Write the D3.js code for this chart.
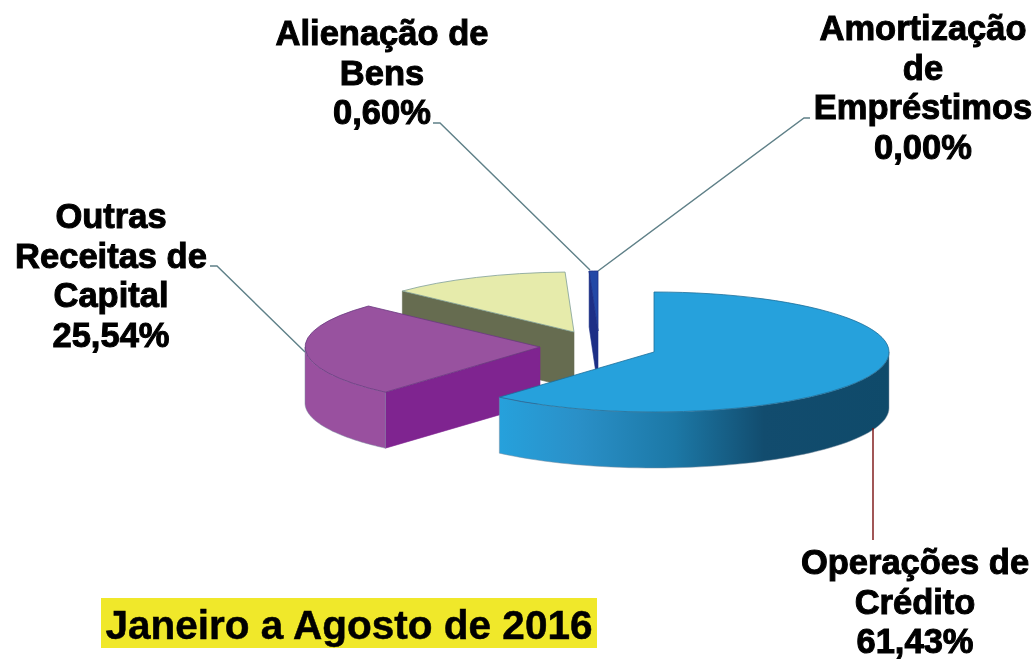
<!DOCTYPE html>
<html><head><meta charset="utf-8">
<script src="https://cdn.jsdelivr.net/npm/d3@7"></script>
<style>html,body{margin:0;padding:0;background:#fff}svg{display:block;filter:blur(.45px)}</style>
</head><body><div id="c"></div>
<script>
const categories = ["Operações de Crédito","Outras Receitas de Capital","Outras","Alienação de Bens","Amortização de Empréstimos"];
const values = [61.43,25.54,12.43,0.60,0.00];
const topColors = ["#26a1dc","#98529f","#e6ebab","#2348a6",null];
const outerColors = ["url(#gBlue)","#99509f","#e6ebab","#1c3a96",null];
const cutColors = ["#1c78a6","#7f2490","#666c50","#1d2f86",null];
const edgeColors = ["#1c6f9a","#6a3a80","#7f9e97","#1d2f86",null];
const labelLines = [
  ["Operações de","Crédito","61,43%"],
  ["Outras","Receitas de","Capital","25,54%"],
  null,
  ["Alienação de","Bens","0,60%"],
  ["Amortização","de","Empréstimos","0,00%"]
];
const title = "Janeiro a Agosto de 2016";

const W=1036,H=659,RX=235,RY=60,DEPTH=56;
const apexes=[[654,352],[540,347],[574,332],[598,331],[598,331]];
const labelPos=[[915,574],[111,228],null,[382,45],[923,40]];
const leaders=[
  [[873,428],[873,540]],
  [[210,266],[217,266],[305,352]],
  null,
  [[433,123],[440,123],[590,270]],
  [[810,118],[804,118],[598,271]]
];
const leaderColors=["#7a0f0f","#5f8088",null,"#5f8088","#5f8088"];

const svg=d3.select("#c").append("svg").attr("width",W).attr("height",H).attr("viewBox",[0,0,W,H]);
const defs=svg.append("defs");
const g=defs.append("linearGradient").attr("id","gBlue").attr("gradientUnits","userSpaceOnUse")
  .attr("x1",499).attr("x2",889).attr("y1",0).attr("y2",0);
[[0,"#26a1dc"],[0.2,"#2a90c8"],[0.45,"#1c78a6"],[0.68,"#124c6e"],[1,"#0f4a6a"]]
  .forEach(([o,c])=>g.append("stop").attr("offset",o).attr("stop-color",c));

const pie=d3.pie().value(d=>d).sort(null).startAngle(0).endAngle(2*Math.PI);
const arcs=pie(values);
const arc=d3.arc().innerRadius(0).outerRadius(1);
const px=(i,a)=>apexes[i][0]+RX*Math.sin(a);
const py=(i,a)=>apexes[i][1]-RY*Math.cos(a);
const area=d3.area().x(d=>d.x).y0(d=>d.y).y1(d=>d.y+DEPTH);

// back to front
const order=[3,2,1,0];
const chart=svg.append("g");
order.forEach(i=>{
  const s=arcs[i];
  const [ax,ay]=apexes[i];
  const g0=chart.append("g");
  // straight cut face that turns toward the viewer
  const a=s.startAngle;
  if(Math.sin(a)<-1e-6){
    const pts=[[ax,ay],[px(i,a),py(i,a)],[px(i,a),py(i,a)+DEPTH],[ax,ay+DEPTH]];
    g0.append("path").attr("d",d3.line()(pts)+"Z").attr("fill",cutColors[i]).attr("stroke",cutColors[i]).attr("stroke-width",.6);
  }
  // outer curved wall, front half only
  const a0=Math.max(s.startAngle,Math.PI/2),a1=Math.min(s.endAngle,3*Math.PI/2);
  if(a1>a0){
    const samples=d3.range(0,61).map(k=>{const t=a0+(a1-a0)*k/60;return{x:px(i,t),y:py(i,t)};});
    g0.append("path").attr("d",area(samples)).attr("fill",outerColors[i]).attr("stroke","#7d8fa0").attr("stroke-width",.5);
  }
  // top face
  g0.append("path").attr("d",arc({startAngle:s.startAngle,endAngle:s.endAngle}))
    .attr("transform",`translate(${ax},${ay}) scale(${RX},${RY})`)
    .attr("fill",topColors[i]).attr("stroke",edgeColors[i]).attr("stroke-width",.8)
    .style("vector-effect","non-scaling-stroke");
});

// leaders
leaders.forEach((l,i)=>{ if(l) svg.append("path").attr("d",d3.line()(l)).attr("fill","none")
  .attr("stroke",leaderColors[i]).attr("stroke-width",1.4); });

// labels
const LH=39.7;
labelLines.forEach((lines,i)=>{
  if(!lines)return;
  const t=svg.append("text").attr("text-anchor","middle")
    .attr("font-family","'Liberation Sans',Arial,sans-serif").attr("font-weight",700)
    .attr("font-size",34.5).attr("fill","#000").attr("stroke","#000").attr("stroke-width",1);
  lines.forEach((ln,k)=>t.append("tspan").attr("x",labelPos[i][0]).attr("y",labelPos[i][1]+k*LH).text(ln));
});

// title box
svg.append("rect").attr("x",101).attr("y",598).attr("width",496).attr("height",50).attr("fill","#f0e82a");
svg.append("text").attr("x",349).attr("y",639).attr("text-anchor","middle")
  .attr("font-family","'Liberation Sans',Arial,sans-serif").attr("font-weight",700)
  .attr("font-size",40.5).attr("fill","#000").attr("stroke","#000").attr("stroke-width",.5).text(title);
</script></body></html>
